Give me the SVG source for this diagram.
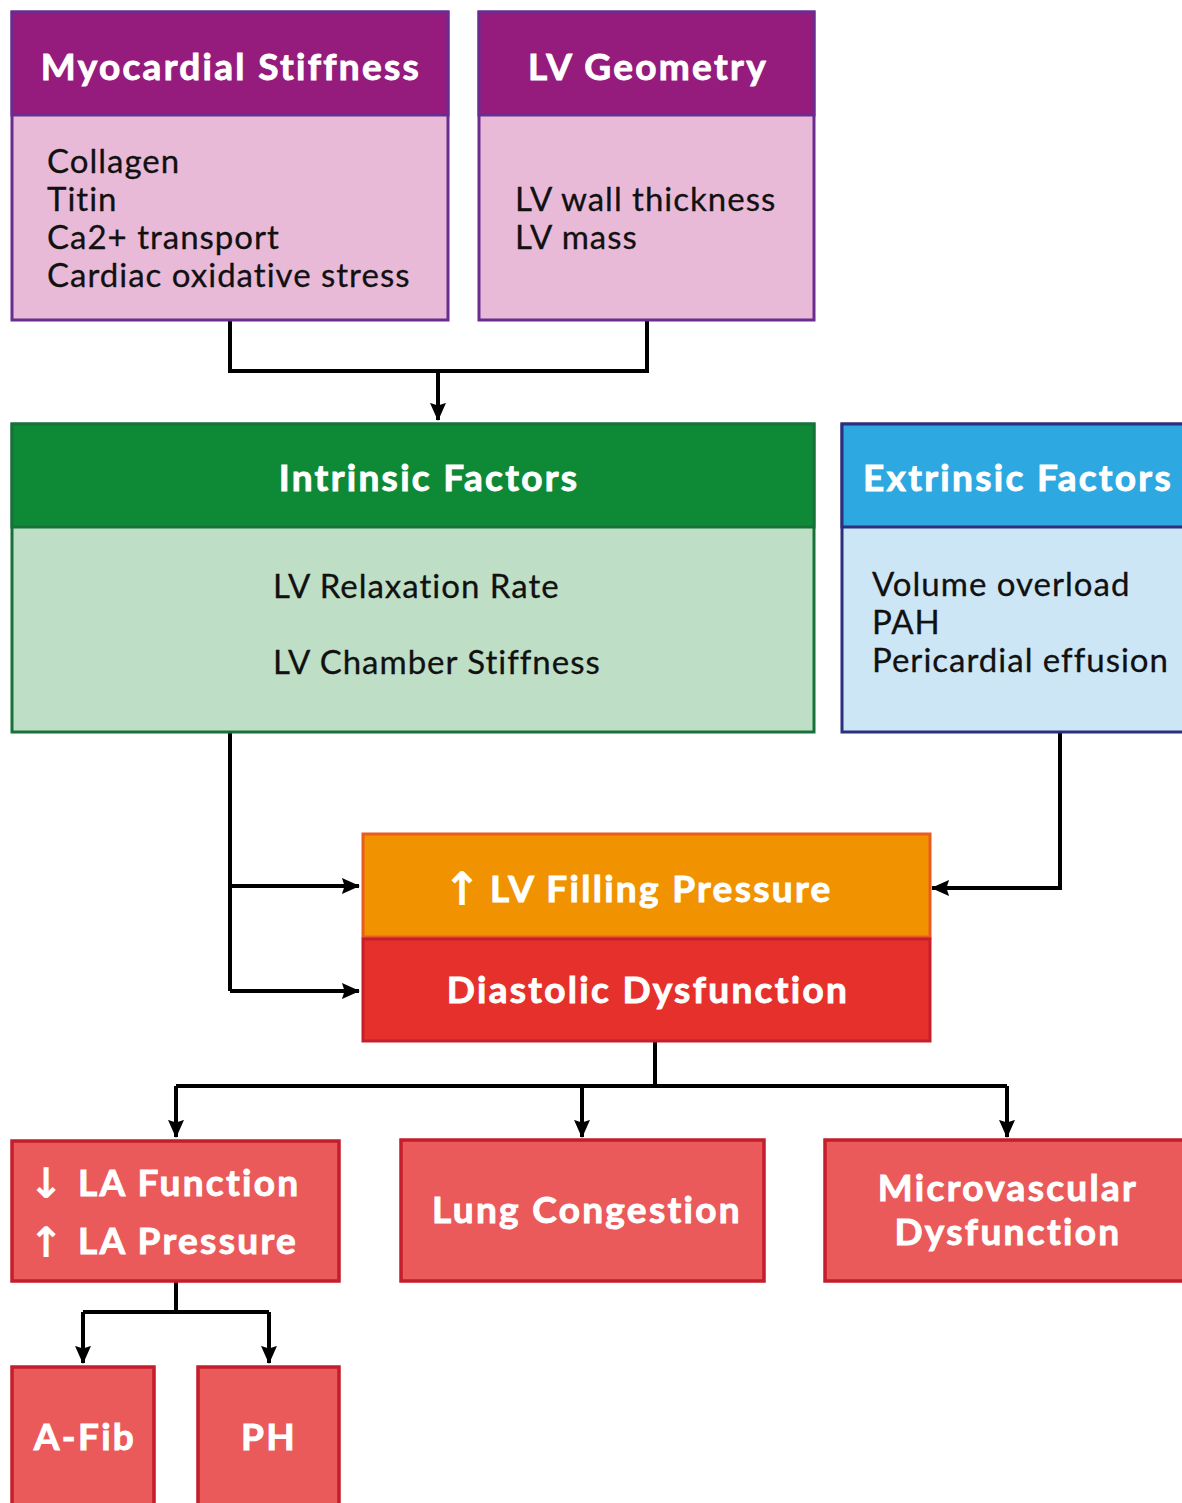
<svg xmlns="http://www.w3.org/2000/svg" width="1182" height="1503" viewBox="0 0 1182 1503">
<defs>
<marker id="ah" viewBox="0 0 10 10" refX="9.5" refY="5" markerWidth="18" markerHeight="16" orient="auto" markerUnits="userSpaceOnUse" preserveAspectRatio="none">
<path d="M0,0 L10,5 L0,10 L1.5,5 Z" fill="#000"/>
</marker>
<style>
.hd{font-family:Lato,"Liberation Sans",sans-serif;font-weight:700;fill:#fff;stroke:#fff;stroke-width:0.9px;font-size:37px;letter-spacing:2.3px;}
.bd{font-family:Lato,"Liberation Sans",sans-serif;font-weight:400;fill:#111;stroke:#111;stroke-width:0.3px;font-size:33px;letter-spacing:1px;}
.sym{font-family:"DejaVu Sans",sans-serif;fill:#fff;font-weight:700;}
.con{fill:none;stroke:#000;stroke-width:4;}
.pk{fill:#e9bad8;stroke:#6a2c8f;stroke-width:3;}
.pkh{fill:#951b7d;stroke:#6a2c8f;stroke-width:3;}
.red{fill:#ea5a5b;stroke:#c41d2b;stroke-width:3.5;}
</style>
</defs>
<rect width="1182" height="1503" fill="#fff"/>

<g id="connectors">
<path class="con" d="M230,321 V371 H647 V321"/>
<path class="con" d="M438,371 V420" marker-end="url(#ah)"/>
<path class="con" d="M230,733 V991"/>
<path class="con" d="M230,886 H359" marker-end="url(#ah)"/>
<path class="con" d="M230,991 H359" marker-end="url(#ah)"/>
<path class="con" d="M1060,733 V888 H932" marker-end="url(#ah)"/>
<path class="con" d="M655,1042 V1086"/>
<path class="con" d="M176,1086 H1007"/>
<path class="con" d="M176,1086 V1137" marker-end="url(#ah)"/>
<path class="con" d="M582,1086 V1137" marker-end="url(#ah)"/>
<path class="con" d="M1007,1086 V1137" marker-end="url(#ah)"/>
<path class="con" d="M176,1282 V1312"/>
<path class="con" d="M83,1312 H269"/>
<path class="con" d="M83,1312 V1363" marker-end="url(#ah)"/>
<path class="con" d="M269,1312 V1363" marker-end="url(#ah)"/>
</g>

<g id="myocardial-stiffness">
<rect class="pk" x="12" y="12" width="436" height="308"/>
<rect class="pkh" x="12" y="12" width="436" height="103"/>
<text class="hd" x="231" y="80" text-anchor="middle">Myocardial Stiffness</text>
<text class="bd" x="47" y="173">Collagen</text>
<text class="bd" x="47" y="211">Titin</text>
<text class="bd" x="47" y="249">Ca2+ transport</text>
<text class="bd" x="47" y="287">Cardiac oxidative stress</text>
</g>

<g id="lv-geometry">
<rect class="pk" x="479" y="12" width="335" height="308"/>
<rect class="pkh" x="479" y="12" width="335" height="103"/>
<text class="hd" x="648" y="80" text-anchor="middle">LV Geometry</text>
<text class="bd" x="515" y="211">LV wall thickness</text>
<text class="bd" x="515" y="249">LV mass</text>
</g>

<g id="intrinsic-factors">
<rect x="12" y="424" width="802" height="308" fill="#bfdec6" stroke="#167238" stroke-width="3"/>
<rect x="12" y="424" width="802" height="103" fill="#0e8a36" stroke="#167238" stroke-width="3"/>
<text class="hd" x="429" y="491" text-anchor="middle">Intrinsic Factors</text>
<text class="bd" x="273" y="598">LV Relaxation Rate</text>
<text class="bd" x="273" y="674">LV Chamber Stiffness</text>
</g>

<g id="extrinsic-factors">
<rect x="842" y="424" width="345" height="308" fill="#cde6f6" stroke="#2c2f7e" stroke-width="3"/>
<rect x="842" y="424" width="345" height="103" fill="#2ea8e0" stroke="#2c2f7e" stroke-width="3"/>
<text class="hd" x="863" y="491">Extrinsic Factors</text>
<text class="bd" x="872" y="596">Volume overload</text>
<text class="bd" x="872" y="634">PAH</text>
<text class="bd" x="872" y="672">Pericardial effusion</text>
</g>

<g id="lv-filling-pressure">
<rect x="363" y="834" width="567" height="103" fill="#f19300" stroke="#e85d1f" stroke-width="3"/>
<text class="sym" x="462" y="905" font-size="46" text-anchor="middle">↑</text>
<text class="hd" x="490" y="902">LV Filling Pressure</text>
</g>

<g id="diastolic-dysfunction">
<rect x="363" y="939" width="567" height="102" fill="#e6302b" stroke="#c41f2b" stroke-width="3"/>
<text class="hd" x="648" y="1003" text-anchor="middle">Diastolic Dysfunction</text>
</g>

<g id="la-function">
<rect class="red" x="12" y="1141" width="327" height="140"/>
<text class="sym" x="46" y="1198" font-size="42" text-anchor="middle">↓</text>
<text class="hd" x="78" y="1196">LA Function</text>
<text class="sym" x="46" y="1257" font-size="42" text-anchor="middle">↑</text>
<text class="hd" x="78" y="1254">LA Pressure</text>
</g>

<g id="lung-congestion">
<rect class="red" x="401" y="1140" width="363" height="141"/>
<text class="hd" x="587" y="1223" text-anchor="middle">Lung Congestion</text>
</g>

<g id="microvascular-dysfunction">
<rect class="red" x="825" y="1140" width="362" height="141"/>
<text class="hd" x="1008" y="1201" text-anchor="middle">Microvascular</text>
<text class="hd" x="1008" y="1245" text-anchor="middle">Dysfunction</text>
</g>

<g id="a-fib">
<rect class="red" x="12" y="1367" width="142" height="145"/>
<text class="hd" x="85" y="1450" text-anchor="middle">A-Fib</text>
</g>

<g id="ph">
<rect class="red" x="198" y="1367" width="141" height="145"/>
<text class="hd" x="269" y="1450" text-anchor="middle">PH</text>
</g>
</svg>
